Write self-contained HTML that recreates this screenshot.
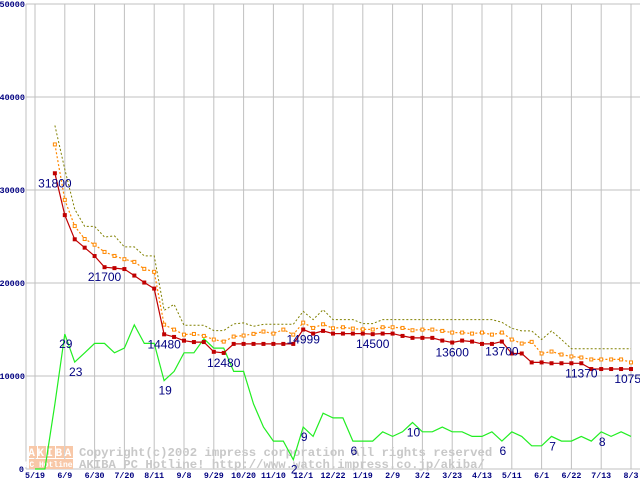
<!DOCTYPE html>
<html><head><meta charset="utf-8"><style>
html,body{margin:0;padding:0;background:#fff;width:640px;height:480px;overflow:hidden}
svg{display:block}
</style></head><body>
<svg id="chart" width="640" height="480" xmlns="http://www.w3.org/2000/svg" font-family="Liberation Mono, monospace">
<g id="grid"></g>
<g id="watermark">
  <g>
    <rect x="29" y="446" width="8" height="12" fill="#f8c8a8"/><rect x="38" y="446" width="8" height="12" fill="#f8c8a8"/><rect x="47" y="446" width="8" height="12" fill="#f8c8a8"/><rect x="56" y="446" width="8" height="12" fill="#f8c8a8"/><rect x="65" y="446" width="8" height="12" fill="#f8c8a8"/>
    <text x="51" y="456" font-size="11" font-weight="bold" fill="#fff" text-anchor="middle" letter-spacing="2.5">AKIBA</text>
    <rect x="29" y="459" width="44" height="10" fill="#f8c8a8"/>
    <text x="51" y="467" font-size="8" font-weight="bold" fill="#fff" text-anchor="middle">PC Hotline!</text>
  </g>
  <text x="79" y="456" font-size="12.3" font-weight="bold" fill="#c8c8c8">Copyright(c)2002 impress corporation All rights reserved</text>
  <text x="79" y="468" font-size="12.3" font-weight="bold" fill="#c8c8c8">AKIBA PC Hotline!  http://www.watch.impress.co.jp/akiba/</text>
</g>
<g id="series"></g>
<g id="labels"></g>
</svg>
<script>
const xTickLabels = ["5/19","6/9","6/30","7/20","8/11","9/8","9/29","10/20","11/10","12/1","12/22","1/19","2/9","3/2","3/23","4/13","5/11","6/1","6/22","7/13","8/3"];
const yTickValues = [0,10000,20000,30000,40000,50000];
const lowPrice = [null,null,31800,27300,24700,23800,22900,21700,21600,21500,20800,20050,19400,14480,14200,13800,13650,13650,12600,12480,13450,13450,13450,13450,13450,13450,13450,14999,14560,14850,14560,14560,14560,14560,14500,14560,14560,14310,14100,14100,14100,13810,13600,13810,13700,13450,13450,13700,12420,12420,11460,11460,11370,11370,11370,11370,10750,10750,10750,10750,10750];
const avgPrice = [null,null,34900,28940,26120,24730,24120,23340,22910,22560,22270,21520,21200,15520,14990,14450,14520,14310,13920,13700,14240,14350,14530,14780,14560,14990,14450,15740,15170,15560,15130,15240,15100,15020,15000,15240,15240,15170,14920,14990,14990,14850,14670,14670,14560,14670,14450,14670,13920,13490,13670,12420,12630,12310,12100,11990,11780,11780,11780,11780,11460];
const highPrice = [null,null,36940,32230,27940,26090,26090,24950,25060,23880,23880,22910,22910,17060,17700,15450,15450,15450,14880,14880,15600,15710,15340,15560,15560,15560,15560,16950,16060,17130,16060,16060,16060,15630,15630,16060,16060,16060,16060,16060,16060,16060,16060,16060,16060,16060,16060,15770,15130,14850,14850,13920,14850,13920,12920,12920,12920,12920,12920,12920,12920];
const shopCount = [0,0,14,29,23,25,27,27,25,26,31,27,27,19,21,25,25,28,26,26,21,21,14,9,6,6,2,9,7,12,11,11,6,6,6,8,7,8,10,8,8,9,8,8,7,7,8,6,8,7,5,5,7,6,6,7,6,8,7,8,7];
const priceLabelIdx = [2,7,13,19,27,34,42,47,55,60];
const countLabelIdx = [3,4,13,26,27,32,38,47,52,57];
const countScale = 500;

const NS="http://www.w3.org/2000/svg";
const X0=35, DX=(631-35)/60, Y0=469, YTOP=4;
function xs(i){return X0+i*DX;}
function ys(v){return Y0-(v/50000)*(Y0-YTOP);}
function mk(tag,attrs,parent){const e=document.createElementNS(NS,tag);for(const k in attrs)e.setAttribute(k,attrs[k]);parent.appendChild(e);return e;}
const grid=document.getElementById('grid'), ser=document.getElementById('series'), lab=document.getElementById('labels');

yTickValues.forEach(v=>{
  const y=ys(v);
  const l=mk('line',{x1:26,x2:640,y1:y,y2:y,stroke:'#c0c0c0','stroke-width':1},grid);
  
  
  const t=mk('text',{x:v===0?24:25,y:y+3,'font-size':8.5,'font-weight':'bold',fill:'#000080','text-anchor':'end'},grid);
  t.textContent=String(v);
  
  
});
const ax=mk('line',{x1:26,x2:26,y1:YTOP,y2:Y0,stroke:'#c0c0c0','stroke-width':1},grid);


xTickLabels.forEach((s,k)=>{
  const x=xs(k*3);
  const l=mk('line',{x1:x,x2:x,y1:YTOP,y2:Y0,stroke:'#c0c0c0','stroke-width':1},grid);
  
  
  const t=mk('text',{x:x,y:478,'font-size':8.3,'font-weight':'bold',fill:'#000080','text-anchor':'middle'},grid);
  t.textContent=s;
  
  
});

function pts(arr,scale){const p=[];arr.forEach((v,i)=>{if(v!==null)p.push(xs(i).toFixed(1)+','+ys(v*scale).toFixed(1));});return p.join(' ');}
const g=mk('polyline',{points:pts(shopCount,countScale),fill:'none',stroke:'#22ee22','stroke-width':1.2},ser);


const h=mk('polyline',{points:pts(highPrice,1),fill:'none',stroke:'#808000','stroke-width':1,'stroke-dasharray':'2,2'},ser);


const a=mk('polyline',{points:pts(avgPrice,1),fill:'none',stroke:'#ff8800','stroke-width':1.2,'stroke-dasharray':'2,2'},ser);


avgPrice.forEach((v,i)=>{if(v===null)return;
  const r=mk('rect',{x:xs(i)-1.5,y:ys(v)-1.5,width:3,height:3,fill:'#fff',stroke:'#ff8800','stroke-width':1},ser);
  
  
});
const lo=mk('polyline',{points:pts(lowPrice,1),fill:'none',stroke:'#c00000','stroke-width':1.2},ser);


lowPrice.forEach((v,i)=>{if(v===null)return;
  const r=mk('rect',{x:xs(i)-2,y:ys(v)-2,width:4,height:4,fill:'#c00000'},ser);
  
  
});
priceLabelIdx.forEach(i=>{
  const t=mk('text',{x:xs(i),y:ys(lowPrice[i])+14,'font-size':12,fill:'#000080','text-anchor':'middle','font-family':'Liberation Sans, sans-serif'},lab);
  t.textContent=String(lowPrice[i]);
  
  
});
countLabelIdx.forEach(i=>{
  const t=mk('text',{x:xs(i)+1,y:ys(shopCount[i]*countScale)+14,'font-size':12,fill:'#000080','text-anchor':'middle','font-family':'Liberation Sans, sans-serif'},lab);
  t.textContent=String(shopCount[i]);
  
  
});
</script>
</body></html>
